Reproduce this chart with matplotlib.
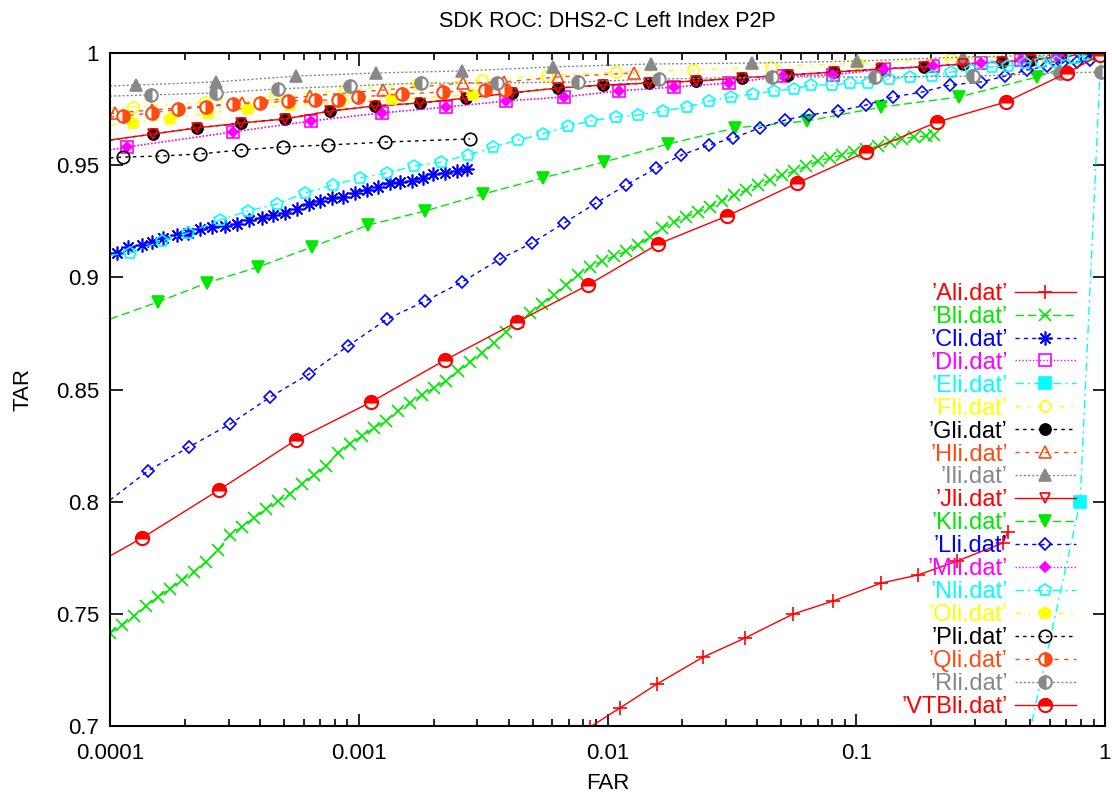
import numpy as np
import matplotlib.pyplot as plt
from matplotlib.ticker import FixedLocator, LogLocator, NullFormatter

plt.rcParams['font.family'] = ['Liberation Sans', 'DejaVu Sans']

# ---- data (FAR, TAR) ----
ali_far = [0.0085, 0.0112, 0.0158, 0.0242, 0.0357, 0.0557, 0.0806, 0.1258, 0.177, 0.254, 0.389, 0.407]
ali_tar = [0.6995, 0.7080, 0.7187, 0.7307, 0.7392, 0.7499, 0.7557, 0.7637, 0.7673, 0.7735, 0.7816, 0.7865]

bli_far = [1.0e-4, 1.12e-4, 1.25e-4, 1.40e-4, 1.56e-4, 1.74e-4, 1.95e-4, 2.18e-4, 2.43e-4, 2.72e-4,
           3.04e-4, 3.39e-4, 3.79e-4, 4.24e-4, 4.74e-4, 5.29e-4, 5.92e-4, 6.61e-4, 7.39e-4, 8.25e-4,
           9.22e-4, 1.031e-3, 1.152e-3, 1.287e-3, 1.438e-3, 1.608e-3, 1.796e-3, 2.007e-3, 2.243e-3, 2.507e-3,
           2.801e-3, 3.130e-3, 3.498e-3, 3.909e-3, 4.369e-3, 4.882e-3, 5.456e-3, 6.097e-3, 6.813e-3, 7.614e-3,
           8.506e-3, 9.505e-3, 1.062e-2, 1.187e-2, 1.327e-2, 1.482e-2, 1.657e-2, 1.851e-2, 2.069e-2, 2.312e-2,
           2.582e-2, 2.886e-2, 3.225e-2, 3.604e-2, 4.027e-2, 4.500e-2, 5.029e-2, 5.620e-2, 6.280e-2, 7.018e-2,
           7.843e-2, 8.765e-2, 9.794e-2, 0.1095, 0.1223, 0.1367, 0.1527, 0.1707, 0.1908, 0.2054]
bli_tar = [0.7414, 0.7450, 0.7490, 0.7535, 0.7575, 0.7611, 0.7651, 0.7687, 0.7731, 0.7785,
           0.7852, 0.7888, 0.7928, 0.7968, 0.8004, 0.8035, 0.8079, 0.8119, 0.8160, 0.8218,
           0.8258, 0.8293, 0.8329, 0.8360, 0.8405, 0.8441, 0.8476, 0.8507, 0.8539, 0.8583,
           0.8623, 0.8663, 0.8708, 0.8757, 0.8801, 0.8841, 0.8881, 0.8921, 0.8966, 0.9010,
           0.9046, 0.9073, 0.9095, 0.9117, 0.9144, 0.9180, 0.9220, 0.9246, 0.9269, 0.9291,
           0.9313, 0.9340, 0.9367, 0.9389, 0.9412, 0.9434, 0.9456, 0.9474, 0.9496, 0.9519,
           0.9532, 0.9545, 0.9559, 0.9572, 0.9585, 0.9603, 0.9617, 0.9626, 0.9630, 0.9635]

cli_far = [1.0e-4, 1.067e-4, 1.18e-4, 1.345e-4, 1.475e-4, 1.63e-4, 1.86e-4, 2.06e-4, 2.30e-4, 2.57e-4,
           2.90e-4, 3.24e-4, 3.62e-4, 4.08e-4, 4.52e-4, 5.05e-4, 5.65e-4, 6.31e-4, 6.99e-4, 7.81e-4,
           8.65e-4, 9.66e-4, 1.08e-3, 1.195e-3, 1.335e-3, 1.465e-3, 1.64e-3, 1.81e-3, 1.99e-3, 2.22e-3,
           2.48e-3, 2.72e-3]
cli_tar = [0.9099, 0.9108, 0.9135, 0.9144, 0.9157, 0.9175, 0.9189, 0.9198, 0.9215, 0.9224,
           0.9229, 0.9238, 0.9256, 0.9264, 0.9278, 0.9287, 0.9305, 0.9327, 0.9340, 0.9354,
           0.9358, 0.9376, 0.9389, 0.9403, 0.9420, 0.9425, 0.9429, 0.9443, 0.9461, 0.9465,
           0.9474, 0.9483]

dli_far = [1.0e-4, 1.17e-4, 3.12e-4, 6.43e-4, 1.24e-3, 2.24e-3, 3.91e-3, 6.69e-3, 1.11e-2, 1.85e-2,
           3.08e-2, 5.08e-2, 8.06e-2, 0.129, 0.203, 0.317, 0.460, 0.641, 0.929]
dli_tar = [0.9568, 0.9581, 0.9648, 0.9697, 0.9733, 0.9759, 0.9786, 0.9804, 0.9831, 0.9848,
           0.9866, 0.9897, 0.9902, 0.9929, 0.9942, 0.9955, 0.9969, 0.9987, 1.0]

eli_far = [0.49, 0.794, 0.963]
eli_tar = [0.6937, 0.7998, 1.0]

fli_far = [1.0e-4, 1.24e-4, 2.41e-4, 4.61e-4, 8.80e-4, 1.71e-3, 3.13e-3, 5.71e-3, 1.08e-2, 2.21e-2,
           4.54e-2, 0.1007, 0.240, 0.574]
fli_tar = [0.9755, 0.9759, 0.9782, 0.9808, 0.9835, 0.9862, 0.9880, 0.9897, 0.9915, 0.9924,
           0.9938, 0.9955, 0.9973, 0.9991]

gli_far = [1.0e-4, 1.49e-4, 2.24e-4, 3.36e-4, 5.05e-4, 7.66e-4, 1.16e-3, 1.76e-3, 2.70e-3, 4.13e-3,
           6.32e-3, 9.59e-3, 1.47e-2, 2.27e-2, 3.47e-2, 5.32e-2, 8.14e-2, 0.1258, 0.187, 0.269,
           0.385, 0.504, 0.659, 0.895]
gli_tar = [0.9612, 0.9639, 0.9666, 0.9688, 0.9706, 0.9741, 0.9764, 0.9777, 0.9799, 0.9822,
           0.9844, 0.9857, 0.9866, 0.9875, 0.9889, 0.9902, 0.9915, 0.9929, 0.9938, 0.9951,
           0.9960, 0.9969, 0.9982, 1.0]

hli_far = [1.0e-4, 1.05e-4, 1.48e-4, 3.39e-4, 6.37e-4, 1.25e-3, 2.62e-3, 3.84e-3, 6.32e-3, 1.28e-2]
hli_tar = [0.9728, 0.9733, 0.9746, 0.9777, 0.9808, 0.9835, 0.9866, 0.9871, 0.9893, 0.9911]

ili_far = [1.0e-4, 1.27e-4, 2.67e-4, 5.59e-4, 1.17e-3, 2.60e-3, 6.04e-3, 1.50e-2, 3.81e-2, 0.1007,
           0.269, 0.659]
ili_tar = [0.9853, 0.9857, 0.9871, 0.9897, 0.9911, 0.9920, 0.9938, 0.9951, 0.9955, 0.9964,
           0.9982, 0.9991]

jli_far = gli_far
jli_tar = gli_tar

kli_far = [1.0e-4, 1.56e-4, 2.45e-4, 3.94e-4, 6.49e-4, 1.09e-3, 1.85e-3, 3.16e-3, 5.50e-3, 9.68e-3,
           1.75e-2, 3.26e-2, 6.34e-2, 0.1259, 0.259, 0.533, 0.955]
kli_tar = [0.8814, 0.8890, 0.8975, 0.9046, 0.9135, 0.9233, 0.9296, 0.9371, 0.9443, 0.9514,
           0.9594, 0.9666, 0.9697, 0.9759, 0.9804, 0.9893, 0.9991]

lli_far = [1.0e-4, 1.42e-4, 2.08e-4, 3.04e-4, 4.40e-4, 6.31e-4, 9.05e-4, 1.30e-3, 1.85e-3, 2.60e-3,
           3.70e-3, 4.97e-3, 6.69e-3, 8.99e-3, 1.19e-2, 1.57e-2, 1.98e-2, 2.56e-2, 3.20e-2, 4.10e-2,
           5.17e-2, 6.46e-2, 8.44e-2, 0.1094, 0.1405, 0.1838, 0.2382, 0.3174, 0.396, 0.486,
           0.585, 0.672, 0.772, 0.871, 1.0]
lli_tar = [0.8007, 0.8137, 0.8244, 0.8346, 0.8466, 0.8569, 0.8694, 0.8814, 0.8894, 0.8979,
           0.9082, 0.9153, 0.9242, 0.9331, 0.9412, 0.9487, 0.9545, 0.9590, 0.9621, 0.9666,
           0.9701, 0.9724, 0.9741, 0.9768, 0.9804, 0.9826, 0.9857, 0.9871, 0.9897, 0.9924,
           0.9942, 0.9955, 0.9960, 0.9969, 0.9991]

mli_far = dli_far
mli_tar = dli_tar

nli_far = [1.0e-4, 1.20e-4, 1.62e-4, 2.06e-4, 2.77e-4, 3.59e-4, 4.69e-4, 6.08e-4, 7.88e-4, 1.01e-3,
           1.30e-3, 1.67e-3, 2.14e-3, 2.75e-3, 3.47e-3, 4.37e-3, 5.51e-3, 6.94e-3, 8.58e-3, 1.08e-2,
           1.33e-2, 1.67e-2, 2.09e-2, 2.56e-2, 3.14e-2, 3.85e-2, 4.67e-2, 5.62e-2, 6.58e-2, 7.99e-2,
           9.44e-2, 0.1115, 0.1354, 0.1645, 0.2016, 0.2404, 0.2892, 0.3514, 0.407, 0.477,
           0.553, 0.635, 0.751, 0.855]
nli_tar = [0.9099, 0.9108, 0.9162, 0.9198, 0.9256, 0.9296, 0.9327, 0.9376, 0.9412, 0.9443,
           0.9465, 0.9496, 0.9514, 0.9545, 0.9581, 0.9612, 0.9639, 0.9675, 0.9697, 0.9715,
           0.9724, 0.9741, 0.9759, 0.9786, 0.9804, 0.9817, 0.9831, 0.9840, 0.9857, 0.9857,
           0.9866, 0.9866, 0.9884, 0.9893, 0.9897, 0.9915, 0.9924, 0.9938, 0.9942, 0.9955,
           0.9960, 0.9960, 0.9978, 0.9991]

oli_far = [1.0e-4, 1.24e-4, 1.74e-4, 2.48e-4, 3.59e-4, 5.29e-4, 8.41e-4, 1.36e-3, 2.88e-3]
oli_tar = [0.9679, 0.9688, 0.9706, 0.9733, 0.9750, 0.9768, 0.9782, 0.9795, 0.9813]

pli_far = [1.0e-4, 1.13e-4, 1.62e-4, 2.30e-4, 3.36e-4, 4.96e-4, 7.52e-4, 1.28e-3, 2.80e-3]
pli_tar = [0.9532, 0.9536, 0.9541, 0.9550, 0.9568, 0.9581, 0.9590, 0.9603, 0.9617]

qli_far = [1.0e-4, 1.13e-4, 1.48e-4, 1.88e-4, 2.43e-4, 3.12e-4, 4.01e-4, 5.19e-4, 6.67e-4, 8.25e-4,
           9.93e-4, 1.49e-3, 2.18e-3, 3.22e-3, 3.87e-3]
qli_tar = [0.9715, 0.9719, 0.9733, 0.9750, 0.9759, 0.9773, 0.9777, 0.9786, 0.9790, 0.9790,
           0.9804, 0.9817, 0.9826, 0.9835, 0.9835]

rli_far = [1.0e-4, 1.46e-4, 2.67e-4, 4.74e-4, 9.22e-4, 1.78e-3, 3.60e-3, 7.61e-3, 1.61e-2, 4.59e-2,
           0.119, 0.295, 0.659, 0.964]
rli_tar = [0.9808, 0.9813, 0.9822, 0.9840, 0.9853, 0.9866, 0.9866, 0.9871, 0.9884, 0.9893,
           0.9893, 0.9897, 0.9911, 0.9915]

vtb_far = [1.0e-4, 1.345e-4, 2.74e-4, 5.59e-4, 1.12e-3, 2.22e-3, 4.33e-3, 8.35e-3, 1.60e-2, 3.02e-2,
           5.78e-2, 0.1094, 0.2112, 0.400, 0.703, 0.955]
vtb_tar = [0.7758, 0.7838, 0.8052, 0.8275, 0.8444, 0.8631, 0.8801, 0.8966, 0.9149, 0.9273,
           0.9420, 0.9559, 0.9692, 0.9782, 0.9911, 0.9991]

ytick_vals = [0.7, 0.75, 0.8, 0.85, 0.9, 0.95, 1.0]
ytick_labels = ['0.7', '0.75', '0.8', '0.85', '0.9', '0.95', '1']
xtick_vals = [1e-4, 1e-3, 1e-2, 1e-1, 1.0]
xtick_labels = ['0.0001', '0.001', '0.01', '0.1', '1']

RED = '#ff0000'
GREEN = '#00e800'
BLUE = '#0000ff'
MAGENTA = '#ff00ff'
CYAN = '#00ffff'
YELLOW = '#ffff00'
BLACK = '#000000'
ORANGE = '#ff4a10'
GRAY = '#888888'

solid = '-'
dash_long = (0, (6, 3))
dash_short = (0, (3, 3))
dots = (0, (1, 1.5))
dash_dot = (0, (6, 3, 1.5, 3))
dash_dot2 = (0, (4, 5, 1.5, 5))
dash_blk = (0, (2.5, 3))
dash_org = (0, (3, 4))
dots_gray = (0, (1.5, 1.5))
asterisk = (8, 2, 0)

# name, far, tar, color, linestyle, marker, size, fill, skip first marker
series = [
    ("'Ali.dat'", ali_far, ali_tar, RED, solid, '+', 10, 'full', False),
    ("'Bli.dat'", bli_far, bli_tar, GREEN, dash_long, 'x', 8, 'full', False),
    ("'Cli.dat'", cli_far, cli_tar, BLUE, dash_short, asterisk, 10, 'full', True),
    ("'Dli.dat'", dli_far, dli_tar, MAGENTA, dots, 's', 8, 'none', True),
    ("'Eli.dat'", eli_far, eli_tar, CYAN, dash_dot, 's', 8, 'full', False),
    ("'Fli.dat'", fli_far, fli_tar, YELLOW, dash_dot2, 'o', 8, 'none', True),
    ("'Gli.dat'", gli_far, gli_tar, BLACK, dash_blk, 'o', 8, 'full', True),
    ("'Hli.dat'", hli_far, hli_tar, ORANGE, dash_org, '^', 8, 'none', True),
    ("'Ili.dat'", ili_far, ili_tar, GRAY, dots_gray, '^', 8, 'full', True),
    ("'Jli.dat'", jli_far, jli_tar, RED, solid, 'v', 7, 'none', True),
    ("'Kli.dat'", kli_far, kli_tar, GREEN, dash_long, 'v', 8, 'full', True),
    ("'Lli.dat'", lli_far, lli_tar, BLUE, dash_short, 'D', 6.5, 'none', True),
    ("'Mli.dat'", mli_far, mli_tar, MAGENTA, dots, 'D', 5, 'full', True),
    ("'Nli.dat'", nli_far, nli_tar, CYAN, dash_dot, 'p', 9, 'none', True),
    ("'Oli.dat'", oli_far, oli_tar, YELLOW, dash_dot2, 'p', 9, 'full', True),
    ("'Pli.dat'", pli_far, pli_tar, BLACK, dash_blk, 'o', 9, 'none', True),
    ("'Qli.dat'", qli_far, qli_tar, ORANGE, dash_org, 'o', 9, 'right', True),
    ("'Rli.dat'", rli_far, rli_tar, GRAY, dots_gray, 'o', 9, 'left', True),
    ("'VTBli.dat'", vtb_far, vtb_tar, RED, solid, 'o', 9.5, 'top', True),
]

fig = plt.figure(figsize=(11.12, 7.97), dpi=100)
ax = fig.add_axes([110 / 1112, 1 - 726 / 797, 995 / 1112, 673 / 797])

for name, far, tar, col, ls, mk, ms, fill, skip in series:
    label = name.replace("'", '\u2019')
    if fill == 'none':
        ax.plot(far, tar, color=col, linestyle=ls, linewidth=1.0, marker=mk, markersize=ms,
                markerfacecolor='none', markeredgecolor=col, markeredgewidth=1.2,
                markevery=slice(1, None) if skip else None, label=label)
    elif fill == 'full':
        ax.plot(far, tar, color=col, linestyle=ls, linewidth=1.0, marker=mk, markersize=ms,
                markerfacecolor=col, markeredgecolor=col, markeredgewidth=1.2,
                markevery=slice(1, None) if skip else None, label=label)
    else:
        ax.plot(far, tar, color=col, linestyle=ls, linewidth=1.0, marker=mk, markersize=ms,
                fillstyle=fill, markerfacecolor=col, markerfacecoloralt='white',
                markeredgecolor=col, markeredgewidth=1.5,
                markevery=slice(1, None) if skip else None, label=label)

ax.set_xscale('log')
ax.set_xlim(1e-4, 1)
ax.set_ylim(0.7, 1.0)
ax.xaxis.set_major_locator(FixedLocator(xtick_vals))
ax.set_xticklabels(xtick_labels)
ax.xaxis.set_minor_locator(LogLocator(base=10, subs=np.arange(2, 10)))
ax.xaxis.set_minor_formatter(NullFormatter())
ax.set_yticks(ytick_vals)
ax.set_yticklabels(ytick_labels)
ax.tick_params(which='both', direction='in', top=True, right=True, labelsize=16, width=1.2)
ax.tick_params(which='major', length=9, pad=8)
ax.tick_params(axis='x', which='major', pad=12)
ax.tick_params(which='minor', length=5)
for sp in ax.spines.values():
    sp.set_linewidth(1.5)

ax.set_xlabel('FAR', fontsize=16, labelpad=7)
ax.set_ylabel('TAR', fontsize=16, labelpad=16)
ax.set_title('SDK ROC: DHS2-C Left Index P2P', fontsize=15.5, pad=19)

leg = ax.legend(loc='lower right', bbox_to_anchor=(0.971, 0.012), fontsize=17, frameon=False,
                markerfirst=False, numpoints=1, handlelength=2.6, handletextpad=0.3,
                labelspacing=0.04, borderaxespad=0.0, borderpad=0.0, labelcolor='linecolor')

fig.savefig('out.png', dpi=100)
